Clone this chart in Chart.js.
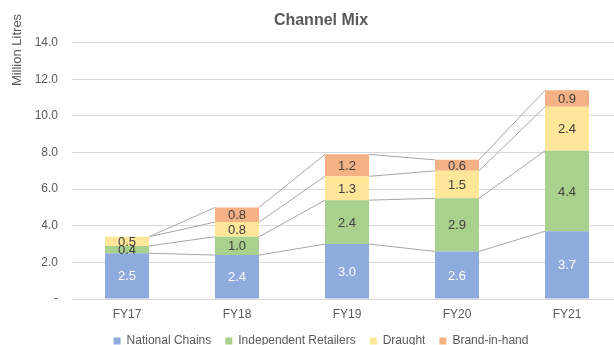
<!DOCTYPE html>
<html lang="en">
<head>
    <meta charset="UTF-8">
    <title>Channel Mix</title>
    <script src="https://cdn.jsdelivr.net/npm/chart.js"></script>
    <style>
        html, body { margin: 0; padding: 0; background: #fff; overflow: hidden; }
        #wrap { width: 642px; height: 345px; }
    </style>
</head>
<body>
    <div id="wrap"><canvas id="channelMix"></canvas></div>

    <script>
        // chart data
        const years = ['FY17', 'FY18', 'FY19', 'FY20', 'FY21'];
        const nationalChains = [2.5, 2.4, 3.0, 2.6, 3.7];
        const independentRetailers = [0.4, 1.0, 2.4, 2.9, 4.4];
        const draught = [0.5, 0.8, 1.3, 1.5, 2.4];
        const brandInHand = [0.0, 0.8, 1.2, 0.6, 0.9];
        const yTicks = [0, 2, 4, 6, 8, 10, 12, 14];

        const FONT = "'Liberation Sans', Arial, sans-serif";
        const GREY = '#595959';

        // grey connector lines between stacked segment tops (like Excel series lines)
        const seriesLines = {
            id: 'seriesLines',
            beforeDatasetsDraw(chart) {
                const ctx = chart.ctx;
                ctx.save();
                ctx.strokeStyle = '#A6A6A6';
                ctx.lineWidth = 1;
                chart.data.datasets.forEach((ds, di) => {
                    const bars = chart.getDatasetMeta(di).data;
                    for (let i = 0; i < bars.length - 1; i++) {
                        const a = bars[i], b = bars[i + 1];
                        ctx.beginPath();
                        ctx.moveTo(a.x + a.width / 2, a.y);
                        ctx.lineTo(b.x - b.width / 2, b.y);
                        ctx.stroke();
                    }
                });
                ctx.restore();
            }
        };

        // value labels inside each segment
        const valueLabels = {
            id: 'valueLabels',
            afterDatasetsDraw(chart) {
                const ctx = chart.ctx;
                ctx.save();
                ctx.font = '13px ' + FONT;
                ctx.textAlign = 'center';
                ctx.textBaseline = 'middle';
                chart.data.datasets.forEach((ds, di) => {
                    chart.getDatasetMeta(di).data.forEach((bar, i) => {
                        const v = ds.data[i];
                        if (!v) return;
                        ctx.fillStyle = ds.labelColor;
                        ctx.fillText(v.toFixed(1), bar.x, (bar.y + bar.base) / 2 + 1);
                    });
                });
                ctx.restore();
            }
        };

        // y axis title sits up near the top-left
        const axisTitle = {
            id: 'axisTitle',
            afterDraw(chart) {
                const ctx = chart.ctx;
                ctx.save();
                ctx.translate(17, 50);
                ctx.rotate(-Math.PI / 2);
                ctx.font = '13px ' + FONT;
                ctx.fillStyle = GREY;
                ctx.textAlign = 'center';
                ctx.textBaseline = 'middle';
                ctx.fillText('Million Litres', 0, 0);
                ctx.restore();
            }
        };

        const ctx = document.getElementById('channelMix').getContext('2d');
        new Chart(ctx, {
            type: 'bar',
            data: {
                labels: years,
                datasets: [
                    { label: 'National Chains', data: nationalChains, backgroundColor: '#8FAADC', labelColor: '#ffffff' },
                    { label: 'Independent Retailers', data: independentRetailers, backgroundColor: '#A9D18E', labelColor: '#404040' },
                    { label: 'Draught', data: draught, backgroundColor: '#FFE699', labelColor: '#404040' },
                    { label: 'Brand-in-hand', data: brandInHand, backgroundColor: '#F4B183', labelColor: '#404040' }
                ]
            },
            options: {
                responsive: true,
                maintainAspectRatio: false,
                animation: false,
                categoryPercentage: 1.0,
                barPercentage: 0.4,
                layout: { padding: { left: 0, right: 0, top: 0, bottom: -12 } },
                plugins: {
                    title: {
                        display: true,
                        text: 'Channel Mix',
                        color: GREY,
                        font: { family: FONT, size: 16, weight: 'bold' },
                        padding: { top: 11, bottom: 12.5 }
                    },
                    legend: {
                        position: 'bottom',
                        labels: {
                            color: GREY,
                            font: { family: FONT, size: 12 },
                            boxWidth: 7,
                            boxHeight: 7,
                            padding: 14
                        }
                    },
                    tooltip: { enabled: false }
                },
                scales: {
                    x: {
                        stacked: true,
                        afterFit(scale) { scale.height = 22; },
                        grid: { display: false, drawTicks: false },
                        border: { color: '#D9D9D9' },
                        ticks: { color: GREY, font: { family: FONT, size: 12 }, padding: 8 }
                    },
                    y: {
                        stacked: true,
                        min: yTicks[0],
                        max: yTicks[yTicks.length - 1],
                        afterBuildTicks(scale) {
                            scale.ticks = yTicks.map(v => ({ value: v }));
                        },
                        afterFit(scale) { scale.width = 72; },
                        grid: { color: '#D9D9D9', drawTicks: false },
                        border: { display: false },
                        ticks: {
                            color: GREY,
                            font: { family: FONT, size: 12 },
                            padding: 14,
                            callback: v => v === 0 ? '-' : v.toFixed(1)
                        }
                    },
                    // empty spacer on the right so the plot runs past the page edge
                    spacer: {
                        type: 'linear',
                        position: 'right',
                        afterFit(scale) { scale.width = 20; },
                        grid: { display: false, drawTicks: false },
                        border: { display: false },
                        ticks: { display: false }
                    }
                }
            },
            plugins: [seriesLines, valueLabels, axisTitle]
        });
    </script>
</body>
</html>
